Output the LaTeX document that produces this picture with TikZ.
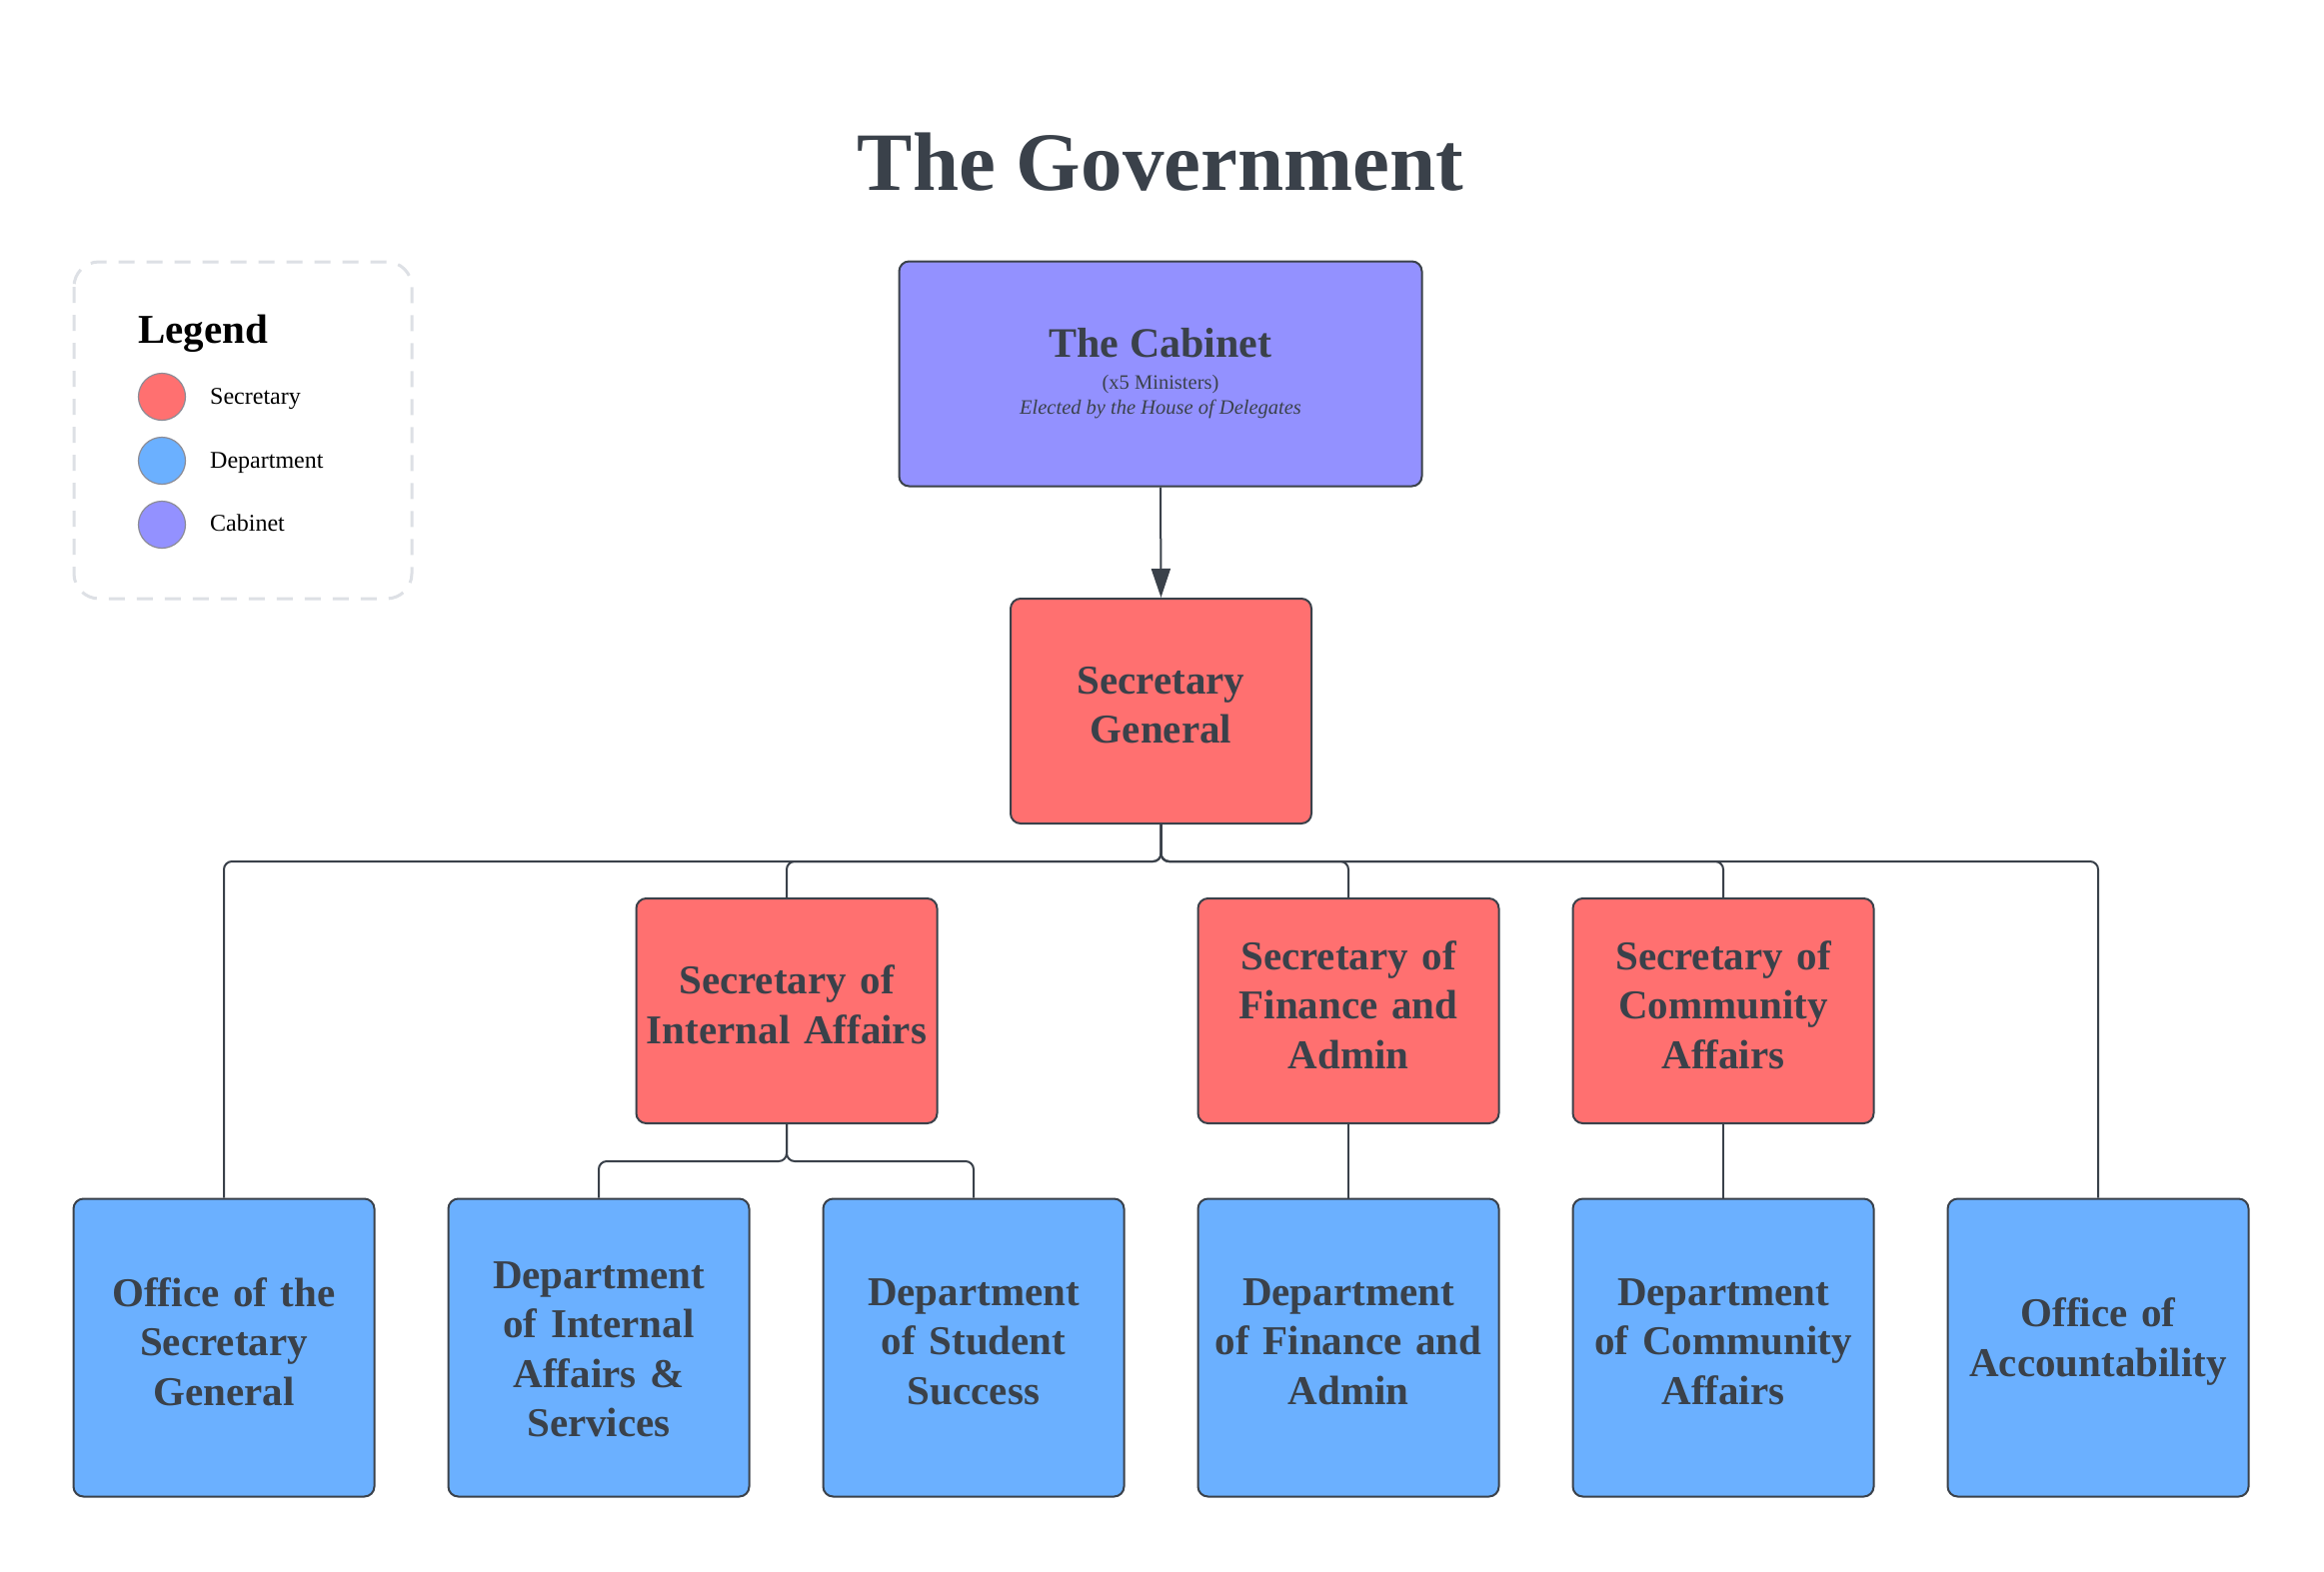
\documentclass[tikz,border=0pt]{standalone}
\usepackage{fontspec}
\setmainfont{Liberation Serif}
\usetikzlibrary{arrows.meta}
\definecolor{edge}{HTML}{3A414A}
\definecolor{txt}{HTML}{3A414A}
\definecolor{secred}{HTML}{FF7070}
\definecolor{depblue}{HTML}{6BB0FF}
\definecolor{cabpurple}{HTML}{9391FF}
\definecolor{legdash}{HTML}{DDE0E5}
\definecolor{circedge}{HTML}{8C8C96}
\tikzset{
  orgbox/.style={rectangle, rounded corners=10pt, draw=edge, line width=2pt,
    minimum width=301pt, text width=292pt, inner sep=4pt, align=center,
    text=txt, font=\fontsize{41}{49.5}\selectfont\bfseries},
  raised/.style={execute at end node={\par\vspace*{#1}}},
  secbox/.style={orgbox, raised=12pt, fill=secred, minimum height=225pt},
  deptbox/.style={orgbox, fill=depblue, minimum height=298pt},
  cabbox/.style={rectangle, rounded corners=10pt, draw=edge, line width=2pt,
    fill=cabpurple, minimum width=523pt, minimum height=225pt},
  conn/.style={draw=edge, line width=2pt, rounded corners=8pt},
  thinconn/.style={draw=edge, line width=1.3pt},
  legdot/.style={circle, minimum size=47pt, inner sep=0pt, draw=circedge, line width=1.2pt},
  leglabel/.style={anchor=base west, inner sep=0pt, font=\fontsize{24}{28}\selectfont, text=black}
}
\begin{document}
\begin{tikzpicture}[x=1pt,y=-1pt]
\useasboundingbox[fill=white] (0,0) rectangle (2325,1573);

% title
\node[anchor=base, inner sep=0pt, text=txt, font=\fontsize{83}{96}\selectfont\bfseries] (title) at (1161,190) {The Government};

% legend
\draw[legdash, line width=3pt, dash pattern=on 16pt off 12pt, rounded corners=25pt] (74,262) rectangle (412,599);
\node[anchor=base west, inner sep=0pt, font=\fontsize{41}{48}\selectfont\bfseries, text=black] (legtitle) at (138,343) {Legend};
\node[legdot, fill=secred] (dotsec) at (162,397) {};
\node[legdot, fill=depblue] (dotdep) at (162,461) {};
\node[legdot, fill=cabpurple] (dotcab) at (162,525) {};
\node[leglabel] (labsec) at (210,404) {Secretary};
\node[leglabel] (labdep) at (210,468) {Department};
\node[leglabel] (labcab) at (210,531) {Cabinet};

% cabinet
\node[cabbox] (cab) at (1161,374) {};
\node[anchor=base, inner sep=0pt, text=txt, font=\fontsize{42}{48}\selectfont\bfseries] (cabtitle) at (1161,357) {The Cabinet};
\node[anchor=base, inner sep=0pt, text=txt, font=\fontsize{20.5}{24}\selectfont] (cabsub) at (1161,389) {(x5 Ministers)};
\node[anchor=base, inner sep=0pt, text=txt, font=\fontsize{20.5}{24}\selectfont\itshape] (cabel) at (1161,414) {Elected by the House of Delegates};

% secretary general
\node[secbox] (sg) at (1161.5,711.5) {Secretary\\General};

% secretaries
\node[secbox] (sia) at (787,1011.5) {Secretary of\\Internal Affairs};
\node[secbox] (sfa) at (1349,1011.5) {Secretary of\\Finance and\\Admin};
\node[secbox] (sca) at (1724,1011.5) {Secretary of\\Community\\Affairs};

% departments
\node[deptbox, raised=12pt] (osg) at (224,1348.5) {Office of the\\Secretary\\General};
\node[deptbox, raised=-4pt] (dia) at (599,1348.5) {Department\\of Internal\\Affairs \&\\Services};
\node[deptbox, raised=12pt] (dss) at (974,1348.5) {Department\\of Student\\Success};
\node[deptbox, raised=12pt] (dfa) at (1349,1348.5) {Department\\of Finance and\\Admin};
\node[deptbox, raised=12pt] (dca) at (1724,1348.5) {Department\\of Community\\Affairs};
\node[deptbox, raised=12pt] (oac) at (2099,1348.5) {Office of\\Accountability};

% connectors
\draw[draw=edge, line width=2pt, -{Triangle[length=29pt,width=19pt]}] (cab.south) -- (sg.north);
\draw[conn] (sg.south) -- ++(0,37) -| (osg.north);
\draw[conn] (sg.south) -- ++(0,37) -| (sia.north);
\draw[conn] (sg.south) -- ++(0,37) -| (sfa.north);
\draw[conn] (sg.south) -- ++(0,37) -| (sca.north);
\draw[conn] (sg.south) -- ++(0,37) -| (oac.north);
\draw[conn] (sia.south) -- ++(0,37) -| (dia.north);
\draw[conn] (sia.south) -- ++(0,37) -| (dss.north);
\draw[thinconn] (sfa.south) -- (dfa.north);
\draw[thinconn] (sca.south) -- (dca.north);
\end{tikzpicture}
\end{document}
